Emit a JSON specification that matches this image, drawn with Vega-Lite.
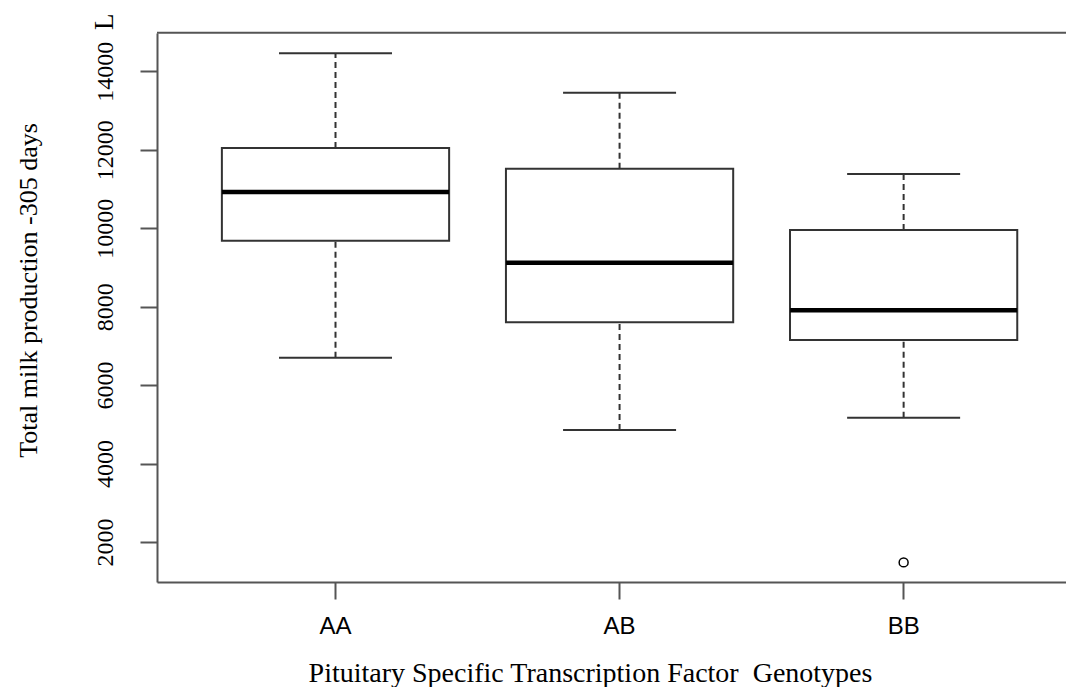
{
  "$schema": "https://vega.github.io/schema/vega-lite/v6.json",
  "width": 909,
  "height": 566,
  "autosize": {"type": "none"},
  "padding": {"left": 157, "top": 16, "right": 0, "bottom": 105},
  "background": "white",
  "config": {"view": {"stroke": null}},
  "datasets": {
    "stats": [
      {"genotype": "AA", "lower": 6700, "q1": 9680, "median": 10920, "q3": 12045, "upper": 14460},
      {"genotype": "AB", "lower": 4855, "q1": 7600, "median": 9120, "q3": 11515, "upper": 13455},
      {"genotype": "BB", "lower": 5170, "q1": 7150, "median": 7905, "q3": 9955, "upper": 11380}
    ],
    "outliers": [
      {"genotype": "BB", "value": 1480}
    ],
    "frame": [
      {"top": 14980}
    ]
  },
  "layer": [
    {
      "data": {"name": "stats"},
      "mark": {"type": "bar", "fill": "white", "stroke": "#333333", "strokeWidth": 2},
      "encoding": {
        "x": {
          "field": "genotype",
          "type": "nominal",
          "sort": ["AA", "AB", "BB"],
          "scale": {"paddingInner": 0.2, "paddingOuter": 0.2, "align": 0.571},
          "axis": {
            "title": "Pituitary Specific Transcription Factor \u00a0Genotypes",
            "titleFont": "Liberation Serif",
            "titleFontSize": 28,
            "titleFontWeight": "normal",
            "titleColor": "black",
            "titleX": 433,
            "titleY": 99,
            "titleBaseline": "alphabetic",
            "titleAlign": "center",
            "labelAngle": 0,
            "labelFont": "Liberation Sans",
            "labelFontSize": 24,
            "labelColor": "black",
            "labelPadding": 15,
            "labelBaseline": "top",
            "domainColor": "#555555",
            "domainWidth": 2,
            "tickColor": "#555555",
            "tickWidth": 2,
            "tickSize": 17,
            "grid": false
          }
        },
        "y": {
          "field": "q1",
          "type": "quantitative",
          "scale": {"domain": [980, 15410], "nice": false, "zero": false},
          "axis": {
            "title": "Total milk production -305 days",
            "titleFont": "Liberation Serif",
            "titleFontSize": 26,
            "titleFontWeight": "normal",
            "titleColor": "black",
            "titleAngle": 270,
            "titleX": -121,
            "titleY": 274,
            "titleBaseline": "alphabetic",
            "titleAlign": "center",
            "values": [2000, 4000, 6000, 8000, 10000, 12000, 14000, 15274],
            "format": "d",
            "labelExpr": "datum.value > 15000 ? 'L' : datum.label",
            "labelAngle": 270,
            "labelAlign": "center",
            "labelBaseline": "alphabetic",
            "labelFont": "Liberation Serif",
            "labelFontSize": {"condition": {"test": "datum.value > 15000", "value": 27}, "value": 24},
            "labelColor": "black",
            "labelPadding": 28,
            "labelOverlap": false,
            "labelBound": false,
            "labelFlush": false,
            "domainColor": "#555555",
            "domainWidth": 2,
            "domainDash": [549, 200],
            "tickColor": "#555555",
            "tickWidth": 2,
            "tickSize": 17,
            "tickOpacity": {"condition": {"test": "datum.value > 15000", "value": 0}, "value": 1},
            "grid": false
          }
        },
        "y2": {"field": "q3"}
      }
    },
    {
      "data": {"name": "frame"},
      "mark": {"type": "rule", "color": "#555555", "strokeWidth": 2},
      "encoding": {
        "y": {"field": "top", "type": "quantitative", "title": "Total milk production -305 days"}
      }
    },
    {
      "data": {"name": "stats"},
      "mark": {"type": "rule", "color": "#333333", "strokeWidth": 2, "strokeDash": [6, 4]},
      "encoding": {
        "x": {"field": "genotype", "type": "nominal", "sort": ["AA", "AB", "BB"], "title": "Pituitary Specific Transcription Factor \u00a0Genotypes"},
        "y": {"field": "q3", "type": "quantitative", "title": "Total milk production -305 days"},
        "y2": {"field": "upper"}
      }
    },
    {
      "data": {"name": "stats"},
      "mark": {"type": "rule", "color": "#333333", "strokeWidth": 2, "strokeDash": [6, 4]},
      "encoding": {
        "x": {"field": "genotype", "type": "nominal", "sort": ["AA", "AB", "BB"], "title": "Pituitary Specific Transcription Factor \u00a0Genotypes"},
        "y": {"field": "lower", "type": "quantitative", "title": "Total milk production -305 days"},
        "y2": {"field": "q1"}
      }
    },
    {
      "data": {"name": "stats"},
      "mark": {"type": "tick", "orient": "horizontal", "size": 113, "thickness": 2, "color": "#333333", "opacity": 1},
      "encoding": {
        "x": {"field": "genotype", "type": "nominal", "sort": ["AA", "AB", "BB"], "title": "Pituitary Specific Transcription Factor \u00a0Genotypes"},
        "y": {"field": "upper", "type": "quantitative", "title": "Total milk production -305 days"}
      }
    },
    {
      "data": {"name": "stats"},
      "mark": {"type": "tick", "orient": "horizontal", "size": 113, "thickness": 2, "color": "#333333", "opacity": 1},
      "encoding": {
        "x": {"field": "genotype", "type": "nominal", "sort": ["AA", "AB", "BB"], "title": "Pituitary Specific Transcription Factor \u00a0Genotypes"},
        "y": {"field": "lower", "type": "quantitative", "title": "Total milk production -305 days"}
      }
    },
    {
      "data": {"name": "stats"},
      "mark": {"type": "tick", "orient": "horizontal", "size": 227, "thickness": 4.5, "color": "black", "opacity": 1},
      "encoding": {
        "x": {"field": "genotype", "type": "nominal", "sort": ["AA", "AB", "BB"], "title": "Pituitary Specific Transcription Factor \u00a0Genotypes"},
        "y": {"field": "median", "type": "quantitative", "title": "Total milk production -305 days"}
      }
    },
    {
      "data": {"name": "outliers"},
      "mark": {"type": "point", "shape": "circle", "filled": false, "size": 80, "stroke": "black", "strokeWidth": 1.5, "opacity": 1},
      "encoding": {
        "x": {"field": "genotype", "type": "nominal", "sort": ["AA", "AB", "BB"], "title": "Pituitary Specific Transcription Factor \u00a0Genotypes"},
        "y": {"field": "value", "type": "quantitative", "title": "Total milk production -305 days"}
      }
    }
  ]
}
